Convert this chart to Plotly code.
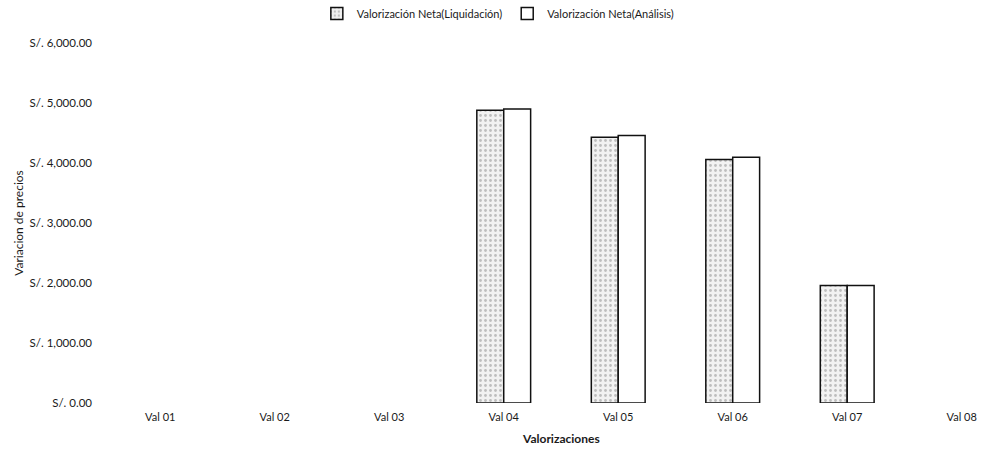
import plotly.graph_objects as go

categories = ["Val 01", "Val 02", "Val 03", "Val 04", "Val 05", "Val 06", "Val 07", "Val 08"]
liquidacion = [None, None, None, 4880, 4430, 4060, 1960, None]
analisis = [None, None, None, 4900, 4460, 4095, 1960, None]
tick_vals = [0, 1000, 2000, 3000, 4000, 5000, 6000]
tick_text = ["S/. 0.00", "S/. 1,000.00", "S/. 2,000.00", "S/. 3,000.00",
             "S/. 4,000.00", "S/. 5,000.00", "S/. 6,000.00"]

font = "Lato, 'Open Sans', sans-serif"
ink = "#1a1a1a"

fig = go.Figure()
fig.add_trace(go.Bar(
    x=categories, y=liquidacion, name="Valorización Neta(Liquidación)",
    marker=dict(color="#ececec", line=dict(color="#111111", width=1.5),
                pattern=dict(shape=".", fgcolor="#8a8a8a", bgcolor="#f2f2f2", size=5, solidity=0.25)),
))
fig.add_trace(go.Bar(
    x=categories, y=analisis, name="Valorización Neta(Análisis)",
    marker=dict(color="#ffffff", line=dict(color="#111111", width=1.5)),
))

fig.update_layout(
    width=983, height=451,
    margin=dict(l=103, r=0, t=43, b=48, autoexpand=False),
    paper_bgcolor="white", plot_bgcolor="white",
    barmode="group", bargap=0.53, bargroupgap=0,
    font=dict(family=font, size=11, color=ink),
    showlegend=True,
    legend=dict(orientation="h", x=0.243, xanchor="left", y=1.122, yanchor="top",
                yref="paper", font=dict(size=11, color=ink),
                itemwidth=30, traceorder="normal", bgcolor="rgba(0,0,0,0)"),
    xaxis=dict(type="category", range=[-0.5, 7.186], showgrid=False, showline=False,
               ticks="", automargin=False, ticklabelstandoff=6, ticklabeloverflow="allow",
               tickfont=dict(size=11, color=ink)),
    yaxis=dict(range=[0, 6000], tickvals=tick_vals, ticktext=tick_text, showgrid=False,
               showline=False, zeroline=False, ticks="", ticklabelstandoff=10,
               automargin=False, tickfont=dict(size=11.5, color=ink),
               title=dict(text="Variacion de precios", font=dict(size=12, color=ink), standoff=3)),
)
fig.add_annotation(text="<b>Valorizaciones</b>", x=3.5, xref="x", y=0, yref="paper",
                   yanchor="middle", yshift=-35, showarrow=False,
                   font=dict(size=12, color=ink))

fig.write_html("out.html", config={"displayModeBar": False},
               post_script="document.body.style.margin='0';")
